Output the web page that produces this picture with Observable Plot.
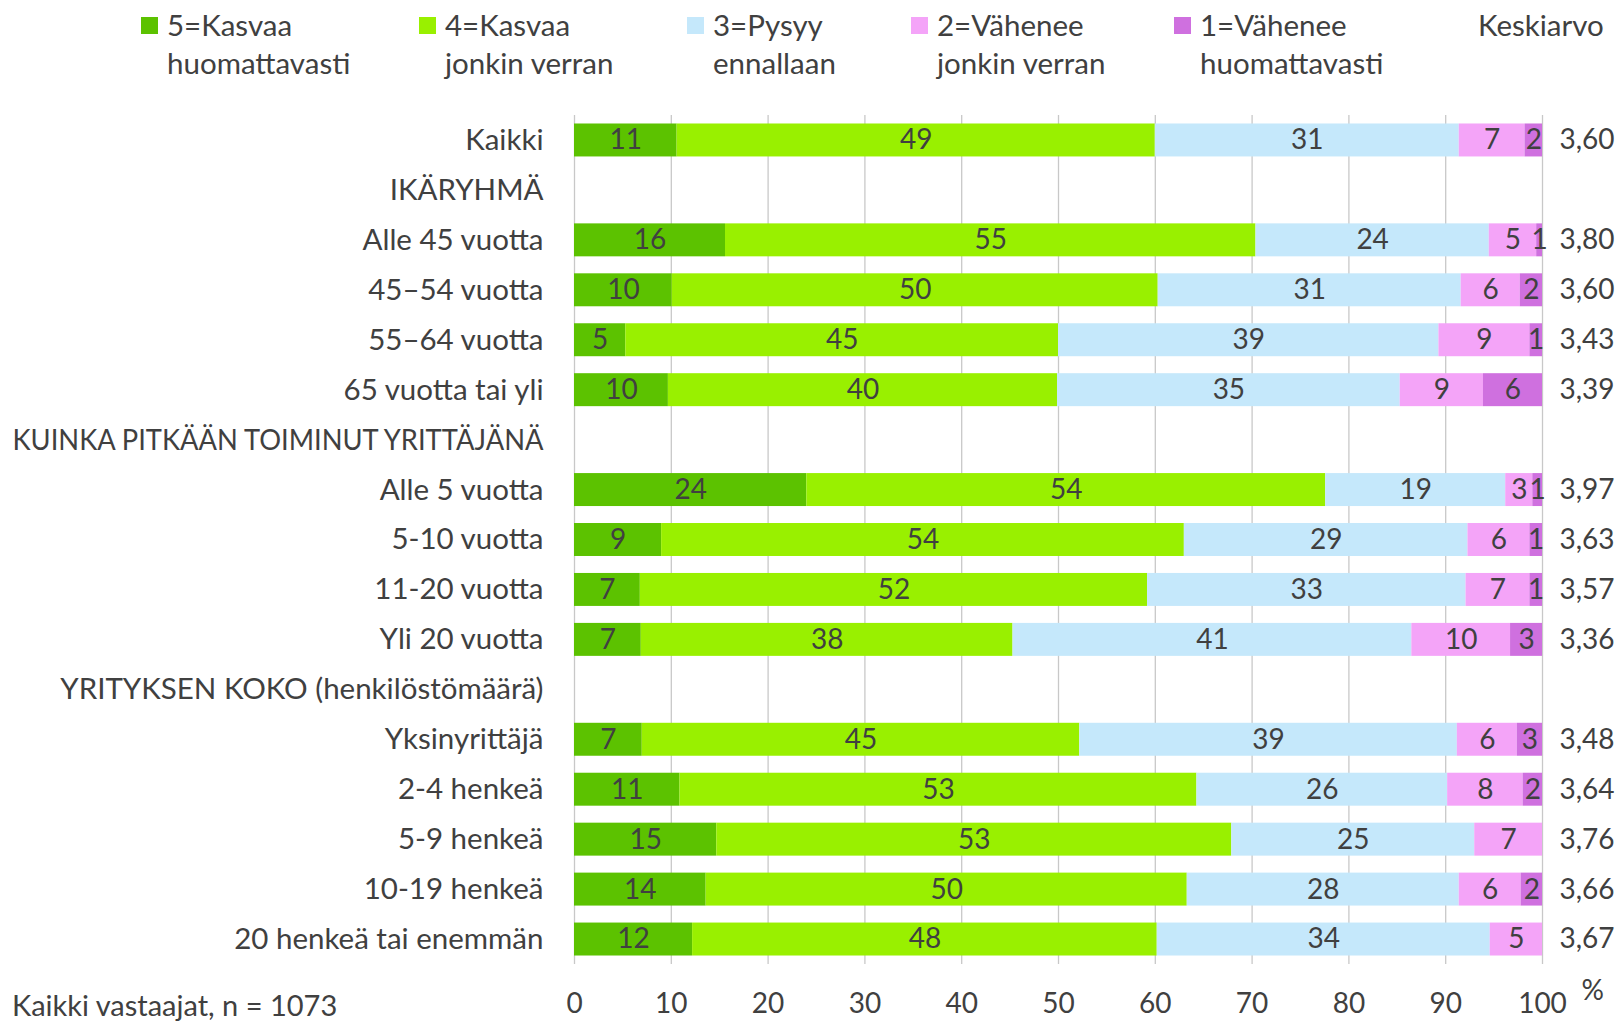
<!DOCTYPE html>
<html><head><meta charset="utf-8">
<script src="https://cdn.jsdelivr.net/npm/d3@7"></script>
<script src="https://cdn.jsdelivr.net/npm/@observablehq/plot@0.6"></script>
<style>
body{margin:0;background:#fff;font-family:Lato,"Noto Sans",sans-serif;color:#404040;}
#wrap{position:relative;width:1619px;height:1021px;overflow:hidden;}
#legend{position:relative;height:100px;font-size:29.5px;}
.item{position:absolute;top:6px;line-height:38px;white-space:nowrap;}
.sw{position:absolute;width:17px;height:17px;top:11px;left:-26px;}
#caption{position:absolute;left:12px;top:986px;font-size:29px;line-height:38px;}
svg{display:block;}
</style>
</head><body>
<div id="wrap">
  <div id="legend"></div>
  <div id="chart"></div>
  <div id="caption"></div>
</div>
<script>
// ---- data ----
const categories = ["5=Kasvaa huomattavasti", "4=Kasvaa jonkin verran", "3=Pysyy ennallaan", "2=Vähenee jonkin verran", "1=Vähenee huomattavasti"];
const colors = ["#5cc200", "#99f000", "#c5e8fb", "#f4a4f8", "#cf70df"];
const rows = ["Kaikki", "IKÄRYHMÄ", "Alle 45 vuotta", "45–54 vuotta", "55–64 vuotta", "65 vuotta tai yli",
  "KUINKA PITKÄÄN TOIMINUT YRITTÄJÄNÄ", "Alle 5 vuotta", "5-10 vuotta", "11-20 vuotta", "Yli 20 vuotta",
  "YRITYKSEN KOKO (henkilöstömäärä)", "Yksinyrittäjä", "2-4 henkeä", "5-9 henkeä", "10-19 henkeä", "20 henkeä tai enemmän"];
const dataRows = ["Kaikki", "Alle 45 vuotta", "45–54 vuotta", "55–64 vuotta", "65 vuotta tai yli",
  "Alle 5 vuotta", "5-10 vuotta", "11-20 vuotta", "Yli 20 vuotta",
  "Yksinyrittäjä", "2-4 henkeä", "5-9 henkeä", "10-19 henkeä", "20 henkeä tai enemmän"];
const v5 = [10.6, 15.6, 10.1, 5.3, 9.7, 24.0, 9.0, 6.8, 6.9, 7.0, 10.9, 14.7, 13.6, 12.2];
const v4 = [49.4, 54.8, 50.2, 44.7, 40.2, 53.6, 54.0, 52.4, 38.4, 45.2, 53.4, 53.2, 49.7, 48.0];
const v3 = [31.4, 24.1, 31.3, 39.3, 35.4, 18.6, 29.3, 32.9, 41.2, 39.0, 25.9, 25.1, 28.1, 34.4];
const v2 = [6.8, 4.9, 6.1, 9.4, 8.6, 2.8, 6.4, 6.6, 10.2, 6.2, 7.8, 7.0, 6.4, 5.4];
const v1 = [1.8, 0.6, 2.3, 1.3, 6.1, 1.0, 1.3, 1.3, 3.3, 2.6, 2.0, 0, 2.2, 0];
const means = [3.60, 3.80, 3.60, 3.43, 3.39, 3.97, 3.63, 3.57, 3.36, 3.48, 3.64, 3.76, 3.66, 3.67];
const xTicks = [0, 10, 20, 30, 40, 50, 60, 70, 80, 90, 100];
const meanTitle = "Keskiarvo";
const captionText = "Kaikki vastaajat, n = 1073";
const unitLabel = "%";

// ---- layout ----
const legendLefts = [167, 445, 713, 937, 1200];
const meanTitleLeft = 1478;
const maxLabelWidth = 531;

const series = [v5, v4, v3, v2, v1];
const long = [];
dataRows.forEach((r, i) => categories.forEach((c, j) => long.push({row: r, cat: c, value: series[j][i]})));
const meanData = dataRows.map((r, i) => ({row: r, mean: means[i]}));
const fi = d3.formatLocale({decimal: ",", thousands: " ", grouping: [3], currency: ["", "€"]});
const fmtMean = fi.format(".2f");
const txt = "#404040";

// legend
const legend = d3.select("#legend");
categories.forEach((c, j) => {
  const k = c.indexOf(" ");
  const it = legend.append("div").attr("class", "item").style("left", legendLefts[j] + "px");
  it.append("div").attr("class", "sw").style("background", colors[j]);
  it.append("div").text(c.slice(0, k));
  it.append("div").text(c.slice(k + 1));
});
legend.append("div").attr("class", "item").style("left", meanTitleLeft + "px").text(meanTitle);
d3.select("#caption").text(captionText);

const chart = Plot.plot({
  width: 1619, height: 921,
  marginLeft: 574, marginRight: 77, marginTop: 15, marginBottom: 57,
  style: {fontFamily: "Lato, 'Noto Sans', sans-serif", fontSize: "28px", color: txt, background: "white", overflow: "visible"},
  x: {domain: [0, 100]},
  y: {domain: rows, paddingInner: 0.34, paddingOuter: 0.17, round: false},
  color: {domain: categories, range: colors},
  marks: [
    Plot.gridX(xTicks, {stroke: "#c8c8c8", strokeOpacity: 1, strokeWidth: 1.3}),
    Plot.barX(long, Plot.stackX({x: "value", y: "row", fill: "cat", order: null})),
    Plot.text(long, Plot.stackX({x: "value", y: "row", z: "cat", order: null,
      text: d => d.value > 0 ? String(Math.round(d.value)) : null, fill: txt})),
    Plot.text(meanData, {y: "row", text: d => fmtMean(d.mean), frameAnchor: "right", dx: 17, textAnchor: "start", fill: txt}),
    Plot.axisX(xTicks, {tickSize: 0, tickPadding: 29, label: null, fill: txt}),
    Plot.axisY({tickSize: 0, tickPadding: 31, label: null, fill: txt, fontSize: 29.5, ariaLabel: "y-axis"}),
    Plot.text([unitLabel], {frameAnchor: "bottom-right", dx: 39, dy: 35, textAnchor: "start", fill: txt})
  ]
});
document.getElementById("chart").appendChild(chart);
// fit over-long category labels into the left margin
d3.select(chart).selectAll("g[aria-label='y-axis'] text, g[aria-label='y-axis tick label'] text").each(function() {
  const w = this.getComputedTextLength();
  if (w > maxLabelWidth) {
    this.setAttribute("textLength", maxLabelWidth);
    this.setAttribute("lengthAdjust", "spacingAndGlyphs");
  }
});
</script>
</body></html>
